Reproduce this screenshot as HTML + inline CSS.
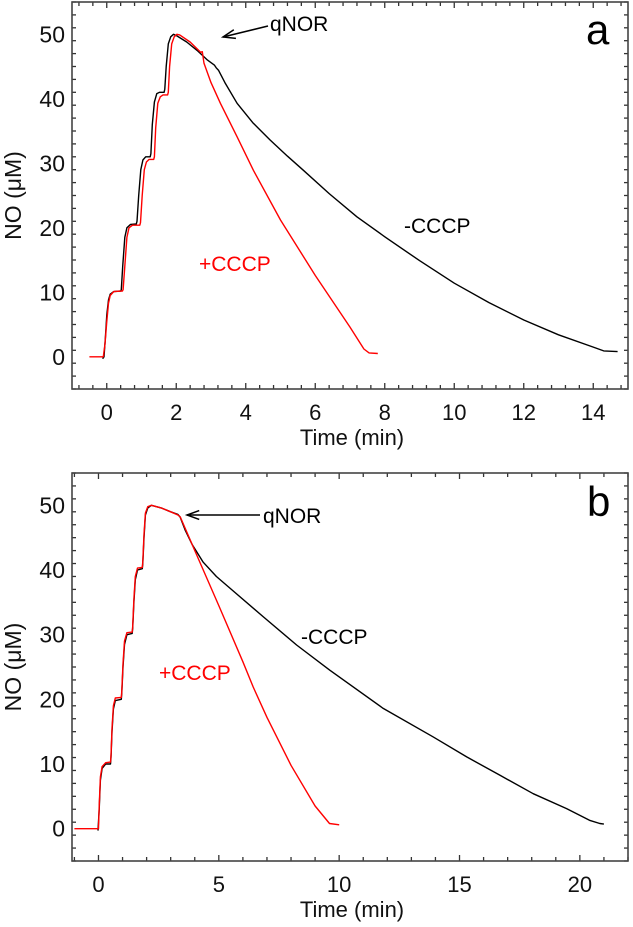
<!DOCTYPE html>
<html><head><meta charset="utf-8"><style>
html,body{margin:0;padding:0;background:#fff;}
svg{display:block;font-family:"Liberation Sans",Arial,sans-serif;}
</style></head><body>
<svg id="fig" width="633" height="927" viewBox="0 0 633 927"></svg>
<script>
// Panel a data
const aBlackX=[-0.12,-0.08,-0.04,0,0.05,0.1,0.2,0.4,0.42,0.46,0.52,0.58,0.68,0.85,0.87,0.92,0.98,1.04,1.12,1.25,1.27,1.31,1.37,1.44,1.52,1.65,1.67,1.71,1.77,1.84,1.92,2.0,2.3,2.6,2.9,3.1,3.15,3.22,3.4,3.75,4.2,4.7,5.2,5.66,6.4,7.2,8,9,10,11,12,13,14,14.3,14.7];
const aBlackY=[-0.3,0,3,6.5,8.8,9.7,10.1,10.2,10.4,14,18.5,20,20.5,20.6,21,25,29,30.5,31,31,31.5,36,39.5,40.8,41,41,41.5,45,48.5,49.6,50,49.8,48.8,47.5,46,45.2,44.8,44.4,42.5,39.3,36.3,33.6,31.1,28.9,25.3,21.7,18.6,14.9,11.4,8.4,5.7,3.4,1.5,0.9,0.8];
const aRedX=[-0.5,-0.1,-0.05,0,0.05,0.1,0.2,0.45,0.47,0.52,0.58,0.64,0.74,0.95,0.97,1.02,1.08,1.14,1.22,1.35,1.37,1.41,1.47,1.54,1.62,1.75,1.77,1.81,1.87,1.94,2.02,2.1,2.4,2.7,2.75,2.8,3,3.27,3.75,4.22,5,6,7,7.4,7.55,7.8];
const aRedY=[0,0,2,5.5,8.3,9.5,10.1,10.2,10.4,14,18.5,20,20.4,20.4,20.8,25,29,30.2,30.6,30.6,31,35.5,39.3,40.3,40.6,40.6,41,45,48.5,49.6,50,49.9,48.8,47.2,47.3,45.5,42.5,39.3,34.1,28.9,21.2,12.6,4.6,1.2,0.6,0.5];
// Panel b data
const bBlackX=[-0.02,0.03,0.08,0.15,0.3,0.5,0.52,0.56,0.62,0.7,0.95,0.97,1.02,1.08,1.18,1.4,1.42,1.47,1.53,1.62,1.82,1.84,1.89,1.95,2.05,2.2,2.6,3.0,3.3,3.39,3.6,3.9,4.35,4.9,5.46,6.84,8.23,9.61,11.83,13.9,15.3,16.68,18.06,19.45,20.4,20.83,21];
const bBlackY=[-0.3,3,7.5,9.3,10,10,11,15,18.5,19.8,20,21,25,28.5,30,30.2,31,35,38.5,40,40.2,41,45,48.5,49.6,50,49.6,49,48.6,48.2,46.2,43.9,41.2,39.0,37.2,32.8,28.4,24.5,18.6,14.2,11.1,8.25,5.4,3.1,1.3,0.8,0.7];
const bRedX=[-1,0,0.03,0.08,0.15,0.3,0.5,0.52,0.56,0.62,0.7,0.95,0.97,1.02,1.08,1.18,1.4,1.42,1.47,1.53,1.62,1.82,1.84,1.89,1.95,2.05,2.2,2.6,3.0,3.3,3.4,4,5,6,6.43,7,8,9,9.6,10];
const bRedY=[0,0,3.5,8,9.6,10.2,10.3,11.3,15.5,19,20.2,20.3,21.3,25.5,29,30.3,30.4,31.3,35.5,39,40.3,40.4,41.3,45.5,48.8,49.8,50,49.6,49,48.5,48.2,43,34.5,25.8,21.9,17.2,9.8,3.5,0.8,0.6];
const aXTicks=[0,2,4,6,8,10,12,14];
const bXTicks=[0,5,10,15,20];
const yTicks=[0,10,20,30,40,50];

const NS="http://www.w3.org/2000/svg";
const svg=document.getElementById('fig');
function el(tag,attrs,parent,text){const e=document.createElementNS(NS,tag);for(const k in attrs)e.setAttribute(k,attrs[k]);if(text!==undefined)e.textContent=text;(parent||svg).appendChild(e);return e;}

function panel(p){
  const g=el('g',{});
  
  
  const sx=v=>p.L+(v-p.xmin)/(p.xmax-p.xmin)*(p.R-p.L);
  const sy=v=>p.B-(v-p.ymin)/(p.ymax-p.ymin)*(p.B-p.T);
  for(let v=p.xstart;v<=p.xmax+1e-9;v+=p.xminor){
    const vv=Math.round(v*100)/100;const major=p.xt.some(t=>Math.abs(t-vv)<1e-6);const len=major?6:4;
    const x=sx(vv);
    el('line',{x1:x,x2:x,y1:p.B,y2:p.B-len,stroke:'#333','stroke-width':1.3},g);
    el('line',{x1:x,x2:x,y1:p.T,y2:p.T+len,stroke:'#333','stroke-width':1.3},g);
  }
  for(let v=p.ymin;v<=p.ymax+1e-9;v+=2){
    const major=yTicks.includes(v);const len=major?6:4;const y=sy(v);
    el('line',{x1:p.L,x2:p.L+len,y1:y,y2:y,stroke:'#333','stroke-width':1.3},g);
    el('line',{x1:p.R,x2:p.R-len,y1:y,y2:y,stroke:'#333','stroke-width':1.3},g);
  }
  const fr=el('rect',{x:p.L,y:p.T,width:p.R-p.L,height:p.B-p.T,fill:'none',stroke:'#444','stroke-width':1.6},g);
  
  
  p.xt.forEach(t=>{const tx=el('text',{x:sx(t),y:p.B+31,'font-size':22,'text-anchor':'middle',fill:'#111'},g,String(t));
    
    });
  yTicks.forEach(t=>{const tx=el('text',{x:p.L-7,y:sy(t)+8,'font-size':23,'text-anchor':'end',fill:'#111'},g,String(t));
    
    });
  const xt=el('text',{x:352,y:p.B+56,'font-size':22,'text-anchor':'middle',fill:'#111'},g,'Time (min)');
  
  
  const yc=(p.T+p.B)/2;
  const yt=el('text',{x:21,y:yc,'font-size':23,'text-anchor':'middle',fill:'#111',transform:'rotate(-90 21 '+yc+')'},g,'NO (\u03BCM)');
  
  
  function line(xs,ys,col,name){
    const d=xs.map((x,i)=>(i?'L':'M')+sx(x).toFixed(1)+' '+sy(ys[i]).toFixed(1)).join(' ');
    const pth=el('path',{d:d,fill:'none',stroke:col,'stroke-width':1.4,'stroke-linejoin':'round'},g);
    
    
  }
  line(p.bx,p.by,'#000','series-minus-cccp-'+p.id);
  line(p.rx,p.ry,'#ff0000','series-plus-cccp-'+p.id);
  const ar=p.arrow;
  const ag=el('g',{},g);
  
  
  el('line',{x1:ar[0],y1:ar[1],x2:ar[2],y2:ar[3],stroke:'#000','stroke-width':1.5},ag);
  const ang=Math.atan2(ar[3]-ar[1],ar[2]-ar[0]);
  const h=(a)=>[ar[2]-13*Math.cos(ang+a),ar[3]-13*Math.sin(ang+a)];
  const h1=h(0.35),h2=h(-0.35);
  el('path',{d:`M${h1[0]} ${h1[1]} L${ar[2]} ${ar[3]} L${h2[0]} ${h2[1]}`,fill:'none',stroke:'#000','stroke-width':1.5},ag);
  const q=el('text',{x:p.qnor[0],y:p.qnor[1],'font-size':21,fill:'#000'},g,'qNOR');
  
  
  const m=el('text',{x:p.minus[0],y:p.minus[1],'font-size':21,fill:'#000'},g,'-CCCP');
  
  
  const pl=el('text',{x:p.plus[0],y:p.plus[1],'font-size':21,fill:'#ff0000'},g,'+CCCP');
  
  
  const lt=el('text',{x:p.letter[0],y:p.letter[1],'font-size':42,fill:'#000'},g,p.id);
  
  
}
panel({id:'a',L:72,R:628,T:2,B:389,xmin:-1,xmax:15,xstart:-0.8,ymin:-5,ymax:55,xminor:0.4,xt:aXTicks,
  bx:aBlackX,by:aBlackY,rx:aRedX,ry:aRedY,arrow:[268,26,223,37],qnor:[270,31],minus:[404,233],plus:[199,271],letter:[586,44]});
panel({id:'b',L:72,R:628,T:473,B:861,xmin:-1.1,xmax:22,xstart:-1,ymin:-5,ymax:55,xminor:1,xt:bXTicks,
  bx:bBlackX,by:bBlackY,rx:bRedX,ry:bRedY,arrow:[260,515,187,515],qnor:[263,523],minus:[301,644],plus:[159,680],letter:[587,516]});
</script>
</body></html>
